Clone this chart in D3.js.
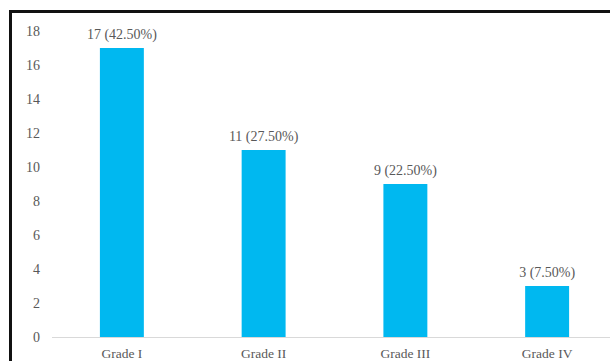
<!DOCTYPE html>
<html>
<head>
<meta charset="utf-8">
<script src="https://cdn.jsdelivr.net/npm/d3@7"></script>
<style>
  body { margin: 0; background: #fff; }
  text { font-family: "Liberation Serif", "DejaVu Serif", serif; }
</style>
</head>
<body>
<svg id="chart" width="610" height="361"></svg>
<script>
// chart data
var grades = ['Grade I', 'Grade II', 'Grade III', 'Grade IV'];
var counts = [17, 11, 9, 3];
var percents = ['42.50%', '27.50%', '22.50%', '7.50%'];
var yTicks = [0, 2, 4, 6, 8, 10, 12, 14, 16, 18];

var svg = d3.select('#chart');

// frame round the chart (runs off the right/bottom edge)
svg.append('rect')
   .attr('x', 10.5).attr('y', 11.5)
   .attr('width', 700).attr('height', 400)
   .style('fill', 'none')
   .style('stroke', '#111')
   .style('stroke-width', 3);

var x = d3.scaleBand().domain(grades).range([51, 618]).paddingInner(0.69).paddingOuter(0.345);
var y = d3.scaleLinear().domain([0, 18]).range([337, 31]);

// y axis labels, no line
var yAxis = svg.append('g')
   .attr('transform', 'translate(40,0)')
   .call(d3.axisLeft(y).tickValues(yTicks).tickSize(0).tickPadding(0));
yAxis.select('.domain').remove();
yAxis.selectAll('text')
   .attr('x', 0)
   .style('text-anchor', 'end')
   .style('font-size', '14px')
   .style('fill', '#595959')
   .style('font-family', null);

// bars
svg.selectAll('rect.bar')
   .data(counts)
   .enter().append('rect')
   .attr('class', 'bar')
   .attr('x', function(d, i) { return x(grades[i]); })
   .attr('y', function(d) { return y(d); })
   .attr('width', x.bandwidth())
   .attr('height', function(d) { return y(0) - y(d); })
   .style('fill', '#00b8f0');

// baseline
svg.append('line')
   .attr('x1', 52).attr('x2', 610)
   .attr('y1', y(0) + 0.5).attr('y2', y(0) + 0.5)
   .style('stroke', '#d9d9d9');

// value labels
svg.selectAll('text.val')
   .data(counts)
   .enter().append('text')
   .attr('class', 'val')
   .attr('x', function(d, i) { return x(grades[i]) + x.bandwidth() / 2; })
   .attr('y', function(d) { return y(d) - 9; })
   .attr('text-anchor', 'middle')
   .style('font-size', '14px')
   .style('fill', '#595959')
   .text(function(d, i) { return d + ' (' + percents[i] + ')'; });

// category labels
var xAxis = svg.append('g')
   .attr('transform', 'translate(0,' + y(0) + ')')
   .call(d3.axisBottom(x).tickSize(0).tickPadding(11));
xAxis.select('.domain').remove();
xAxis.selectAll('text')
   .style('font-size', '13.5px')
   .style('fill', '#595959')
   .style('font-family', null);
</script>
</body>
</html>
